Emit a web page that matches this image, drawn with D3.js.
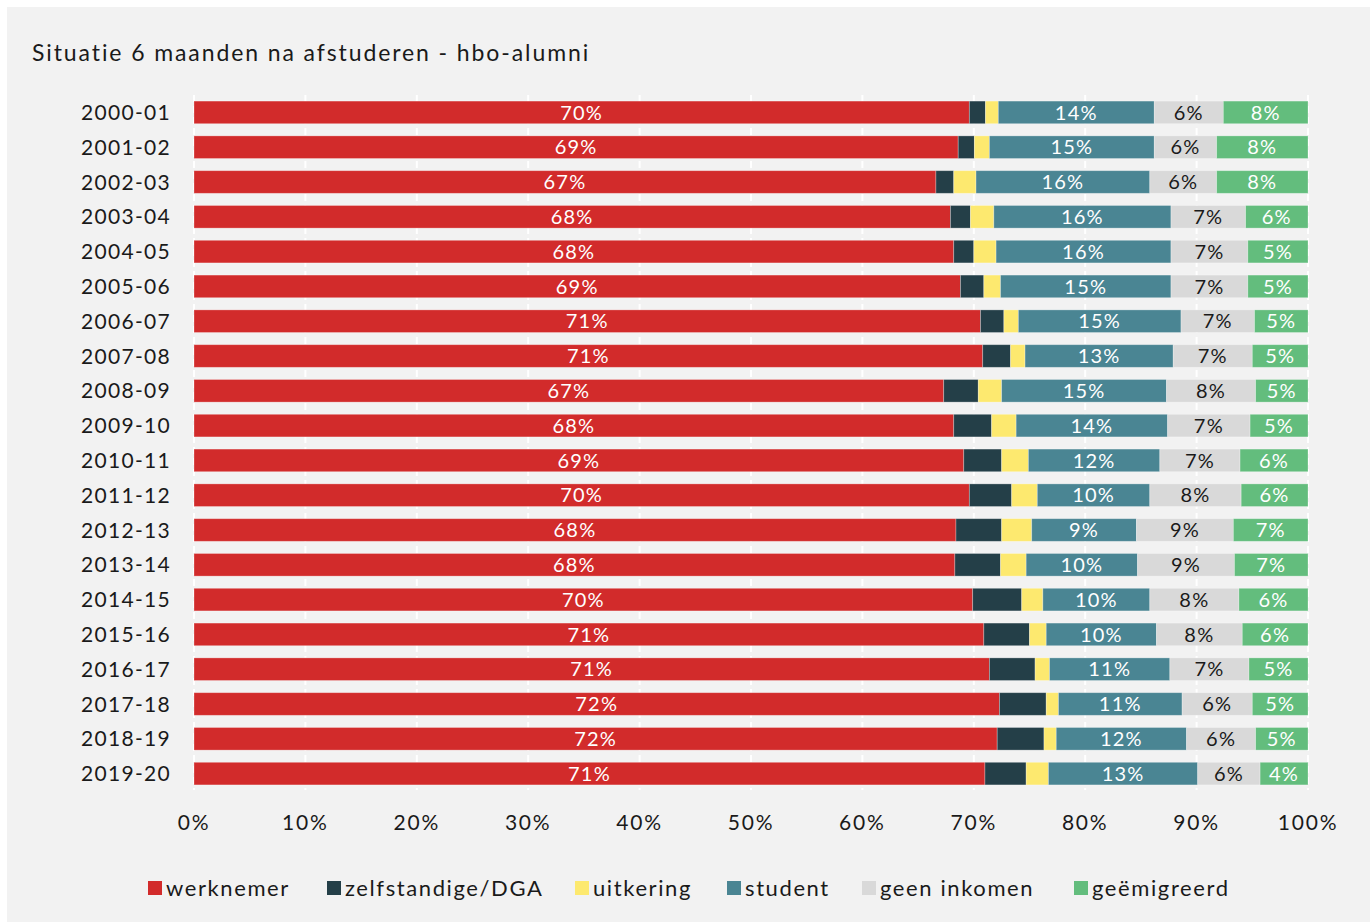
<!DOCTYPE html>
<html><head><meta charset="utf-8">
<script src="https://cdn.jsdelivr.net/npm/d3@7"></script>
<style>body{margin:0;background:#fff}svg{display:block}text{font-family:Lato,"Open Sans",sans-serif}</style>
</head><body><svg id="c" width="1370" height="922"></svg>
<script>
const years = ["2000-01","2001-02","2002-03","2003-04","2004-05","2005-06","2006-07","2007-08","2008-09","2009-10","2010-11","2011-12","2012-13","2013-14","2014-15","2015-16","2016-17","2017-18","2018-19","2019-20"];
const seriesNames = ["werknemer","zelfstandige/DGA","uitkering","student","geen inkomen","geëmigreerd"];
const werknemer   = [69.6,68.6,66.6,67.9,68.2,68.8,70.6,70.8,67.3,68.2,69.1,69.6,68.4,68.3,69.9,70.9,71.4,72.3,72.1,71.0];
const zelfstandig = [1.45,1.45,1.6,1.8,1.8,2.1,2.1,2.5,3.1,3.4,3.4,3.8,4.1,4.1,4.4,4.1,4.1,4.2,4.2,3.7];
const uitkering   = [1.15,1.35,2.0,2.1,2.0,1.5,1.3,1.3,2.1,2.2,2.4,2.3,2.7,2.3,1.9,1.5,1.3,1.1,1.1,2.0];
const student     = [14.0,14.8,15.6,15.9,15.7,15.3,14.6,13.3,14.8,13.6,11.8,10.1,9.4,10.0,9.6,9.9,10.8,11.1,11.7,13.4];
const geenInkomen = [6.2,5.6,6.0,6.7,6.9,6.9,6.6,7.1,8.0,7.4,7.2,8.2,8.7,8.7,8.0,7.7,7.1,6.3,6.2,5.6];
const geemigreerd = [7.6,8.2,8.2,5.6,5.4,5.4,4.8,5.0,4.7,5.2,6.1,6.0,6.7,6.6,6.2,5.9,5.3,5.0,4.7,4.3];
const xTicks = [0,10,20,30,40,50,60,70,80,90,100];
const colors = ["#d22b2b","#243f48","#fde96f","#4a8593","#d9d9d9","#63bd7d"];
const labelColors = ["#fff",null,null,"#fff","#1a1a1a","#fff"];

const allSeries = [werknemer,zelfstandig,uitkering,student,geenInkomen,geemigreerd];
const table = years.map((y,i)=>{const o={year:y}; seriesNames.forEach((s,j)=>o[s]=allSeries[j][i]); return o;});
const stacked = d3.stack().keys(seriesNames)(table);

const svg = d3.select("#c");
svg.append("rect").attr("x",7).attr("y",7).attr("width",1363).attr("height",915).attr("fill","#f2f2f2");
svg.append("text").attr("x",32).attr("y",61).attr("font-size",23).attr("letter-spacing",1.9)
  .attr("fill","#1a1a1a").text("Situatie 6 maanden na afstuderen - hbo-alumni");

const x = d3.scaleLinear().domain([0,100]).range([194,1308]);
const y = d3.scaleBand().domain(years).range([95,791]).paddingInner(0.35).paddingOuter(0.175);

// gridlines
svg.append("g").selectAll("line").data(xTicks).join("line")
  .attr("x1",d=>x(d)).attr("x2",d=>x(d)).attr("y1",95).attr("y2",790)
  .attr("stroke","#fff").attr("stroke-width",2).attr("stroke-dasharray","7,4");

const g = svg.append("g");
stacked.forEach((layer,j)=>{
  g.append("g").selectAll("rect").data(layer).join("rect")
    .attr("x",d=>x(d[0])).attr("width",d=>x(d[1])-x(d[0]))
    .attr("y",d=>y(d.data.year)).attr("height",y.bandwidth())
    .attr("fill",colors[j]).attr("stroke","rgba(255,255,255,0.35)").attr("stroke-width",0.8);
  if(labelColors[j]){
    g.append("g").selectAll("text").data(layer).join("text")
      .attr("x",d=>(x(d[0])+x(d[1]))/2).attr("y",d=>y(d.data.year)+y.bandwidth()/2)
      .attr("dy","0.36em").attr("text-anchor","middle").attr("font-size",20).attr("letter-spacing",1.2)
      .attr("fill",labelColors[j]).text(d=>Math.round(d[1]-d[0])+"%");
  }
});

// y axis labels
svg.append("g").selectAll("text").data(years).join("text")
  .attr("x",171).attr("y",d=>y(d)+y.bandwidth()/2).attr("dy","0.36em")
  .attr("text-anchor","end").attr("font-size",21).attr("letter-spacing",1.3)
  .attr("fill","#1a1a1a").text(d=>d);

// x axis labels
svg.append("g").selectAll("text").data(xTicks).join("text")
  .attr("x",d=>x(d)).attr("y",830).attr("text-anchor","middle")
  .attr("font-size",21).attr("letter-spacing",1.8).attr("fill","#1a1a1a").text(d=>d+"%");

// legend
const legendX = [148,327,575,727,862,1074];
const lg = svg.append("g").selectAll("g").data(seriesNames).join("g")
  .attr("transform",(d,i)=>`translate(${legendX[i]},0)`);
lg.append("rect").attr("x",0).attr("y",881).attr("width",14).attr("height",14).attr("fill",(d,i)=>colors[i]);
lg.append("text").attr("x",18).attr("y",888).attr("dy","0.36em").attr("font-size",22).attr("letter-spacing",1.6)
  .attr("fill","#1a1a1a").text(d=>d);
</script></body></html>
